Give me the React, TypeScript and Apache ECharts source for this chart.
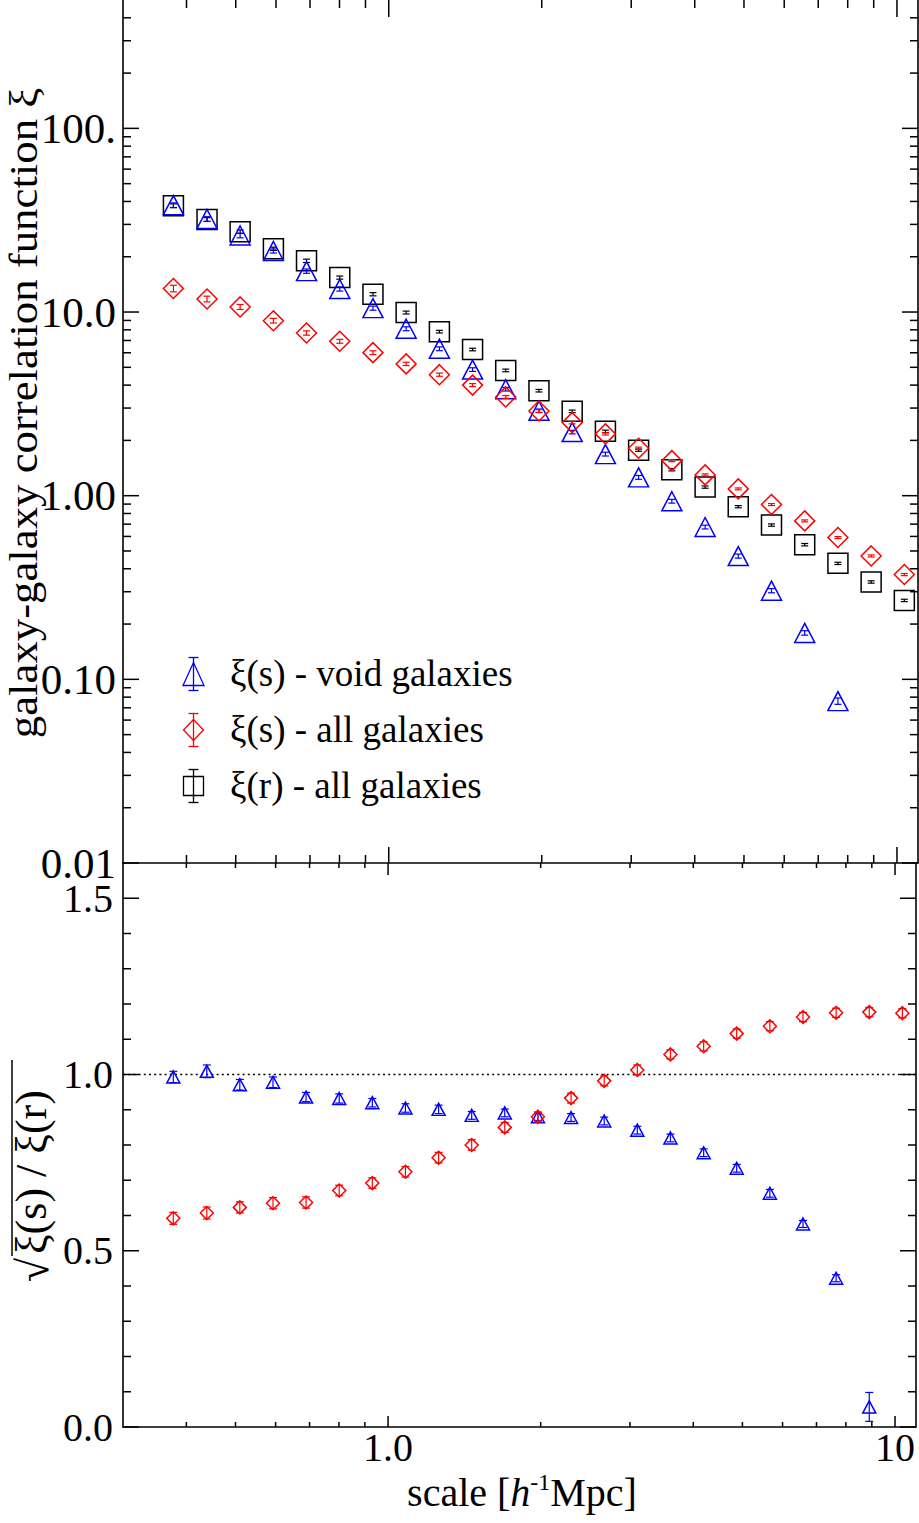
import React, { useEffect, useRef } from "react";
import * as echarts from "echarts";

// pair separation bins [h^-1 Mpc]
const scale = [0.377, 0.439, 0.51, 0.593, 0.689, 0.801, 0.931, 1.082, 1.258, 1.462, 1.699, 1.975, 2.296, 2.669, 3.102, 3.606, 4.193, 4.872, 5.664, 6.584, 7.653, 8.896, 10.34];

// upper panel: correlation functions
const xiRAll = [37.9, 31.9, 27.4, 22.1, 19.0, 15.4, 12.5, 9.94, 7.82, 6.25, 4.81, 3.73, 2.88, 2.24, 1.77, 1.385, 1.114, 0.871, 0.692, 0.541, 0.428, 0.339, 0.269];
const xiRAllErr = [0.9, 0.75, 0.6, 0.45, 0.4, 0.3, 0.25, 0.18, 0.13, 0.1, 0.08, 0.06, 0.045, 0.035, 0.025, 0.02, 0.016, 0.012, 0.01, 0.008, 0.006, 0.005, 0.004];
const xiSVoid = [38.2, 32.1, 26.1, 21.5, 16.7, 13.35, 10.5, 8.11, 6.31, 4.86, 3.8, 2.9, 2.22, 1.684, 1.258, 0.933, 0.675, 0.469, 0.304, 0.179, 0.0761, null, null];
const xiSVoidErr = [1.1, 0.95, 0.75, 0.55, 0.45, 0.35, 0.27, 0.2, 0.15, 0.11, 0.085, 0.065, 0.05, 0.04, 0.03, 0.022, 0.016, 0.012, 0.008, 0.005, 0.003, null, null];
const xiSAll = [13.43, 11.78, 10.66, 8.97, 7.69, 6.93, 6.01, 5.22, 4.56, 4.0, 3.45, 2.89, 2.5, 2.17, 1.813, 1.552, 1.298, 1.089, 0.895, 0.729, 0.592, 0.47, 0.372];
const xiSAllErr = [0.55, 0.42, 0.33, 0.26, 0.21, 0.17, 0.14, 0.11, 0.09, 0.075, 0.06, 0.05, 0.04, 0.03, 0.025, 0.02, 0.016, 0.013, 0.011, 0.009, 0.007, 0.006, 0.005];

// lower panel: sqrt(xi(s) / xi(r))
const ratioVoid = [0.993, 1.009, 0.971, 0.978, 0.936, 0.932, 0.92, 0.905, 0.901, 0.884, 0.891, 0.88, 0.878, 0.868, 0.842, 0.82, 0.778, 0.734, 0.663, 0.576, 0.422, 0.057, null];
const ratioVoidErr = [0.016, 0.018, 0.015, 0.015, 0.013, 0.013, 0.012, 0.012, 0.012, 0.011, 0.011, 0.011, 0.011, 0.011, 0.011, 0.011, 0.011, 0.011, 0.011, 0.01, 0.01, 0.041, null];
const ratioAll = [0.592, 0.607, 0.623, 0.635, 0.637, 0.671, 0.692, 0.724, 0.764, 0.8, 0.85, 0.88, 0.933, 0.982, 1.013, 1.057, 1.08, 1.116, 1.137, 1.163, 1.175, 1.177, 1.174];
const ratioAllErr = [0.017, 0.017, 0.016, 0.016, 0.016, 0.015, 0.015, 0.015, 0.015, 0.015, 0.014, 0.014, 0.014, 0.014, 0.014, 0.013, 0.013, 0.013, 0.013, 0.013, 0.013, 0.013, 0.013];
const unityLevel = 1.0;

// axis ticks
const xMajorTicks = [1, 10];
const xMinorTicks = [0.4, 0.5, 0.6, 0.7, 0.8, 0.9, 2, 3, 4, 5, 6, 7, 8, 9];
const yTopMajorTicks = [0.01, 0.1, 1, 10, 100];
const yTopMinorTicks = [0.02, 0.03, 0.04, 0.05, 0.06, 0.07, 0.08, 0.09, 0.2, 0.3, 0.4, 0.5, 0.6, 0.7, 0.8, 0.9, 2, 3, 4, 5, 6, 7, 8, 9, 20, 30, 40, 50, 60, 70, 80, 90, 200, 300, 400];
const yBottomMajorTicks = [0, 0.5, 1.0, 1.5];
const yBottomMinorTicks = [0.1, 0.2, 0.3, 0.4, 0.6, 0.7, 0.8, 0.9, 1.1, 1.2, 1.3, 1.4];
const yTopTickLabels: Record<string, string> = { "2": "100.", "1": "10.0", "0": "1.00", "-1": "0.10", "-2": "0.01" };
const xTickLabels: Record<string, string> = { "0": "1.0", "1": "10" };

const legendLabels = ["ξ(s) - void galaxies", "ξ(s) - all galaxies", "ξ(r) - all galaxies"];
const yTitleTop = "galaxy-galaxy correlation function ξ";
const yTitleBottomRadicand = "ξ(s) / ξ(r)";

const BLUE = "#0000ff";
const RED = "#ff0000";
const BLACK = "#000000";
const FONT = '"Liberation Serif", "Times New Roman", serif';

const points = (vals: (number | null)[]) =>
  scale.map((x, i) => (vals[i] == null ? null : [x, vals[i] as number])).filter((p) => p !== null);

const bars = (vals: (number | null)[], errs: (number | null)[]) =>
  scale
    .map((x, i) =>
      vals[i] == null || errs[i] == null
        ? null
        : [x, (vals[i] as number) - (errs[i] as number), (vals[i] as number) + (errs[i] as number)]
    )
    .filter((p) => p !== null);

const markerSeries = (g: number, vals: (number | null)[], symbol: string, size: number[], color: string, z: number) => ({
  type: "scatter",
  xAxisIndex: g,
  yAxisIndex: g,
  data: points(vals),
  symbol,
  symbolSize: size,
  itemStyle: { color: "rgba(0,0,0,0)", borderColor: color, borderWidth: 1.5, opacity: 1 },
  emphasis: { disabled: true },
  silent: true,
  z,
});

const errorSeries = (g: number, vals: (number | null)[], errs: (number | null)[], color: string, cap: number, z: number) => ({
  type: "custom",
  xAxisIndex: g,
  yAxisIndex: g,
  data: bars(vals, errs),
  encode: { x: 0, y: [1, 2] },
  silent: true,
  z,
  renderItem: (_params: any, api: any) => {
    const x = api.value(0);
    const lo = api.coord([x, api.value(1)]);
    const hi = api.coord([x, api.value(2)]);
    const st = () => ({ stroke: color, lineWidth: 1.2 });
    return {
      type: "group",
      children: [
        { type: "line", shape: { x1: lo[0], y1: lo[1], x2: hi[0], y2: hi[1] }, style: st() },
        { type: "line", shape: { x1: lo[0] - cap, y1: lo[1], x2: lo[0] + cap, y2: lo[1] }, style: st() },
        { type: "line", shape: { x1: hi[0] - cap, y1: hi[1], x2: hi[0] + cap, y2: hi[1] }, style: st() },
      ],
    };
  },
});

// inward ticks on both edges of a grid; lenA = bottom/left edge, lenB = top/right edge
const tickSeries = (g: number, dir: "x" | "y", values: number[], ref: number, lenA: number, lenB: number) => ({
  type: "custom",
  xAxisIndex: g,
  yAxisIndex: g,
  silent: true,
  clip: false,
  z: 6,
  data: values.map((v) => (dir === "x" ? [v, ref] : [ref, v])),
  renderItem: (params: any, api: any) => {
    const cs = params.coordSys;
    const p = api.coord([api.value(0), api.value(1)]);
    const st = () => ({ stroke: BLACK, lineWidth: 1.5 });
    if (dir === "x") {
      const top = cs.y;
      const bottom = cs.y + cs.height;
      return {
        type: "group",
        children: [
          { type: "line", shape: { x1: p[0], y1: bottom, x2: p[0], y2: bottom - lenA }, style: st() },
          { type: "line", shape: { x1: p[0], y1: top, x2: p[0], y2: top + lenB }, style: st() },
        ],
      };
    }
    const left = cs.x;
    const right = cs.x + cs.width;
    return {
      type: "group",
      children: [
        { type: "line", shape: { x1: left, y1: p[1], x2: left + lenA, y2: p[1] }, style: st() },
        { type: "line", shape: { x1: right, y1: p[1], x2: right - lenB, y2: p[1] }, style: st() },
      ],
    };
  },
});

const logLabel = (table: Record<string, string>) => (v: number) => {
  const l = Math.log10(v);
  const r = Math.round(l);
  if (Math.abs(l - r) > 1e-6) return "";
  return table[String(r)] ?? "";
};

const axisLine = { show: true, onZero: false, lineStyle: { color: BLACK, width: 1.6 } };
const labelStyle = { color: BLACK, fontFamily: FONT, fontSize: 40, lineHeight: 32 };

const legendRow = (i: number, color: string, shape: any) => {
  const cx = 193.5;
  const cy = [674, 730, 786][i];
  const half = 16.5;
  const st = () => ({ stroke: color, lineWidth: 1.3, fill: "none" });
  return {
    type: "group",
    children: [
      shape(cx, cy, st()),
      { type: "line", shape: { x1: cx, y1: cy - half, x2: cx, y2: cy + half }, style: st() },
      { type: "line", shape: { x1: cx - 5, y1: cy - half, x2: cx + 5, y2: cy - half }, style: st() },
      { type: "line", shape: { x1: cx - 5, y1: cy + half, x2: cx + 5, y2: cy + half }, style: st() },
      {
        type: "text",
        x: 230,
        y: cy - 1,
        style: { text: legendLabels[i], fill: BLACK, font: `37px ${FONT}`, textAlign: "left", textVerticalAlign: "middle" },
      },
    ],
  };
};

export default function App() {
  const ref = useRef<HTMLDivElement>(null);

  useEffect(() => {
    if (!ref.current) return;
    const chart = echarts.init(ref.current, undefined, { renderer: "svg" });

    const option: any = {
      animation: false,
      backgroundColor: "#ffffff",
      grid: [
        { left: 123, top: 0, width: 795, height: 863 },
        { left: 123, top: 863, width: 795, height: 564 },
      ],
      xAxis: [
        {
          type: "log", logBase: 10, gridIndex: 0, min: 0.3, max: 11,
          axisLine, axisTick: { show: false }, axisLabel: { show: false }, splitLine: { show: false },
        },
        {
          type: "log", logBase: 10, gridIndex: 1, min: 0.3, max: 11,
          axisLine, axisTick: { show: false }, splitLine: { show: false },
          axisLabel: { ...labelStyle, margin: 4, formatter: logLabel(xTickLabels) },
        },
      ],
      yAxis: [
        {
          type: "log", logBase: 10, gridIndex: 0, min: 0.01, max: 500,
          axisLine, axisTick: { show: false }, splitLine: { show: false },
          axisLabel: { ...labelStyle, fontSize: 43, margin: 7, formatter: logLabel(yTopTickLabels) },
        },
        {
          type: "value", gridIndex: 1, min: 0, max: 1.6, interval: 0.5,
          axisLine, axisTick: { show: false }, splitLine: { show: false },
          axisLabel: {
            ...labelStyle, margin: 10,
            formatter: (v: number) => (v <= 1.5 && Math.abs(v * 2 - Math.round(v * 2)) < 1e-6 ? v.toFixed(1) : ""),
          },
        },
        {
          type: "log", logBase: 10, gridIndex: 0, min: 0.01, max: 500, position: "right",
          axisLine, axisTick: { show: false }, axisLabel: { show: false }, splitLine: { show: false },
        },
        {
          type: "value", gridIndex: 1, min: 0, max: 1.6, position: "right",
          axisLine, axisTick: { show: false }, axisLabel: { show: false }, splitLine: { show: false },
        },
      ],
      series: [
        // upper panel
        markerSeries(0, xiRAll, "rect", [20, 20], BLACK, 2),
        errorSeries(0, xiRAll, xiRAllErr, BLACK, 3.5, 3),
        markerSeries(0, xiSVoid, "triangle", [20, 19], BLUE, 4),
        errorSeries(0, xiSVoid, xiSVoidErr, BLUE, 3.5, 5),
        markerSeries(0, xiSAll, "diamond", [20, 20], RED, 6),
        errorSeries(0, xiSAll, xiSAllErr, RED, 3.5, 7),
        tickSeries(0, "x", xMajorTicks, 1, 16, 17),
        tickSeries(0, "x", xMinorTicks, 1, 8, 8),
        tickSeries(0, "y", yTopMajorTicks, 1, 16, 16),
        tickSeries(0, "y", yTopMinorTicks, 1, 8, 8),
        // lower panel
        {
          type: "line",
          xAxisIndex: 1,
          yAxisIndex: 1,
          data: [[0.3, unityLevel], [11, unityLevel]],
          symbol: "none",
          silent: true,
          lineStyle: { color: BLACK, width: 1.3, type: [2, 3.2] },
          z: 1,
        },
        markerSeries(1, ratioVoid, "triangle", [13, 12], BLUE, 4),
        errorSeries(1, ratioVoid, ratioVoidErr, BLUE, 4, 5),
        markerSeries(1, ratioAll, "diamond", [13, 13], RED, 6),
        errorSeries(1, ratioAll, ratioAllErr, RED, 4, 7),
        tickSeries(1, "x", xMajorTicks, 0.5, 11, 12),
        tickSeries(1, "x", xMinorTicks, 0.5, 5, 5),
        tickSeries(1, "y", yBottomMajorTicks, 1, 16, 16),
        tickSeries(1, "y", yBottomMinorTicks, 1, 8, 8),
      ],
      graphic: [
        {
          type: "text",
          x: 23,
          y: 413,
          rotation: Math.PI / 2,
          scaleX: 1.12,
          style: { text: yTitleTop, fill: BLACK, font: `40px ${FONT}`, textAlign: "center", textVerticalAlign: "middle" },
        },
        {
          type: "group",
          x: 31,
          y: 1170,
          rotation: Math.PI / 2,
          children: [
            {
              type: "text",
              x: -112,
              y: 2,
              style: { text: "√", fill: BLACK, font: `44px ${FONT}`, textAlign: "left", textVerticalAlign: "middle" },
            },
            {
              type: "line",
              shape: { x1: -86, y1: -19, x2: 110, y2: -19 },
              style: { stroke: BLACK, lineWidth: 1.5 },
            },
            {
              type: "text",
              x: -84,
              y: 0,
              style: { text: yTitleBottomRadicand, fill: BLACK, font: `44px ${FONT}`, textAlign: "left", textVerticalAlign: "middle" },
            },
          ],
        },
        {
          type: "text",
          x: 522,
          y: 1492,
          style: {
            text: "{n|scale [}{i|h}{s|-1}{n|Mpc]}",
            textAlign: "center",
            textVerticalAlign: "middle",
            rich: {
              n: { fill: BLACK, fontFamily: FONT, fontSize: 40, lineHeight: 44 },
              i: { fill: BLACK, fontFamily: FONT, fontSize: 40, fontStyle: "italic", lineHeight: 44 },
              s: { fill: BLACK, fontFamily: FONT, fontSize: 24, lineHeight: 24, verticalAlign: "top" },
            },
          },
        },
        legendRow(0, BLUE, (cx: number, cy: number, style: any) => ({
          type: "polygon",
          shape: { points: [[cx, cy - 11.5], [cx - 10.5, cy + 11.5], [cx + 10.5, cy + 11.5]] },
          style,
        })),
        legendRow(1, RED, (cx: number, cy: number, style: any) => ({
          type: "polygon",
          shape: { points: [[cx, cy - 10.5], [cx + 10, cy], [cx, cy + 10.5], [cx - 10, cy]] },
          style,
        })),
        legendRow(2, BLACK, (cx: number, cy: number, style: any) => ({
          type: "rect",
          shape: { x: cx - 10, y: cy - 9.5, width: 20, height: 19 },
          style,
        })),
      ],
    };

    chart.setOption(option);
    return () => chart.dispose();
  }, []);

  return (
    <div
      ref={ref}
      style={{ position: "fixed", left: 0, top: 0, width: 919, height: 1523, background: "#ffffff" }}
    />
  );
}
